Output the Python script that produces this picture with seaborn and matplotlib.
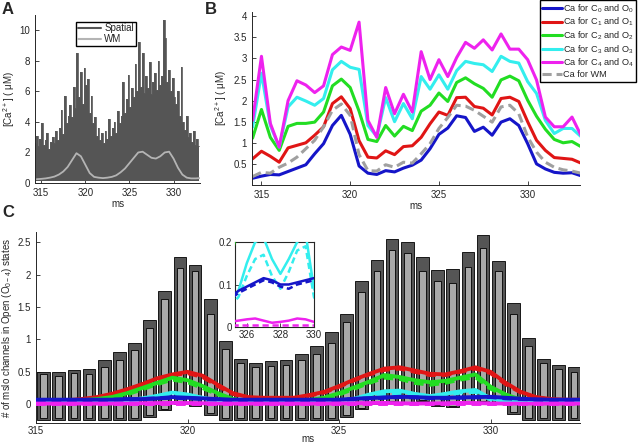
import numpy as np
import pandas as pd
import matplotlib
matplotlib.use('Agg')
import matplotlib.pyplot as plt
import seaborn as sns
from matplotlib.lines import Line2D

sns.set_style('ticks')
plt.rcParams['font.family'] = ['Liberation Sans', 'DejaVu Sans']
plt.rcParams['mathtext.default'] = 'regular'
plt.rcParams['xtick.direction'] = 'in'
plt.rcParams['ytick.direction'] = 'in'
plt.rcParams['xtick.major.size'] = 3
plt.rcParams['ytick.major.size'] = 3
plt.rcParams['xtick.major.width'] = 0.6
plt.rcParams['ytick.major.width'] = 0.6
plt.rcParams['axes.linewidth'] = 0.7
plt.rcParams['xtick.labelsize'] = 7
plt.rcParams['ytick.labelsize'] = 7

# ---------------- panel A : spatial trace (peaks every 0.2 ms) + WM
t_spatial = np.arange(94) * 0.2 + 314.3
spatial_hi = [2.6, 3.1, 2.4, 2.9, 3.9, 2.5, 2.8, 3.3, 2.2, 2.7,
              3.0, 2.6, 3.4, 2.8, 3.6, 4.8, 3.2, 5.7, 3.9, 4.4,
              5.1, 4.3, 6.3, 4.9, 8.5, 5.6, 7.3, 5.2, 7.5, 6.4,
              6.8, 4.6, 5.7, 3.9, 4.3, 3.1, 3.6, 2.8, 3.3, 2.6,
              3.4, 2.9, 4.2, 3.1, 3.6, 4.0, 3.3, 4.7, 3.9, 4.4,
              6.6, 4.6, 5.5, 7.1, 5.0, 6.2, 5.6, 7.8, 6.0, 9.2,
              6.3, 8.5, 5.9, 7.0, 6.2, 7.9, 5.8, 6.6, 7.2, 6.1,
              8.0, 6.4, 7.0, 10.7, 9.5, 6.6, 7.4, 6.0, 6.9, 5.6,
              5.2, 6.0, 4.4, 7.6, 4.0, 3.5, 4.4, 3.0, 3.3, 2.7,
              3.4, 2.5, 2.9, 2.4]
spatial_floor = 0.1

t_wm = np.arange(38) * 0.5 + 314.5
wm_a = [0.25, 0.27, 0.30, 0.35, 0.42, 0.55, 0.75, 1.05, 1.50, 1.95,
        1.75, 1.20, 0.65, 0.40, 0.35, 0.32, 0.35, 0.40, 0.50, 0.70,
        0.95, 1.30, 1.65, 2.00, 2.05, 1.85, 1.65, 1.60, 1.75, 2.00,
        2.05, 1.60, 1.00, 0.55, 0.35, 0.30, 0.30, 0.32]

# ---------------- panel B : Ca per state (0.5 ms)
t_b = np.arange(38) * 0.5 + 314.5
ca_c0 = [0.16, 0.21, 0.25, 0.24, 0.32, 0.40, 0.48, 0.74, 0.98, 1.41, 1.65, 1.20, 0.45,
         0.28, 0.25, 0.34, 0.31, 0.40, 0.47, 0.59, 0.86, 1.20, 1.35, 1.64, 1.60, 1.27,
         1.37, 1.18, 1.49, 1.57, 1.41, 0.98, 0.50, 0.38, 0.30, 0.28, 0.29, 0.22]
ca_c1 = [0.62, 0.80, 0.68, 0.54, 0.88, 0.94, 1.00, 1.18, 1.38, 1.93, 2.09, 1.81, 1.05,
         0.66, 0.64, 0.81, 0.72, 0.91, 0.93, 1.13, 1.45, 1.73, 1.65, 2.07, 2.08, 1.86,
         1.82, 1.66, 2.05, 2.08, 1.98, 1.50, 1.06, 0.82, 0.65, 0.63, 0.61, 0.52]
ca_c2 = [1.11, 1.79, 1.13, 0.82, 1.39, 1.46, 1.46, 1.49, 1.73, 2.35, 2.51, 2.31, 1.75,
         1.08, 1.03, 1.41, 1.16, 1.39, 1.29, 1.75, 1.89, 2.18, 1.98, 2.43, 2.54, 2.40,
         2.29, 2.08, 2.49, 2.58, 2.47, 2.01, 1.63, 1.32, 1.08, 1.00, 1.03, 0.91]
ca_c3 = [1.37, 2.65, 1.41, 0.90, 1.85, 2.08, 1.99, 1.89, 2.05, 2.73, 2.93, 2.79, 2.74,
         1.41, 1.15, 2.07, 1.50, 1.93, 1.57, 2.57, 2.27, 2.61, 2.27, 2.71, 2.93, 2.88,
         2.85, 2.69, 3.05, 2.93, 2.89, 2.45, 2.17, 1.53, 1.22, 1.34, 1.34, 1.15]
ca_c4 = [1.53, 3.05, 1.46, 0.90, 2.00, 2.47, 2.37, 2.19, 2.35, 3.09, 3.27, 3.19, 3.86,
         1.53, 1.13, 2.31, 1.69, 2.15, 1.73, 3.16, 2.50, 2.97, 2.57, 3.02, 3.38, 3.24,
         3.44, 3.20, 3.58, 3.22, 3.22, 2.97, 2.49, 1.61, 1.38, 1.38, 1.61, 1.18]
ca_wm = [0.20, 0.30, 0.28, 0.42, 0.52, 0.66, 0.86, 1.06, 1.38, 1.77, 1.92, 1.65, 0.72,
         0.34, 0.33, 0.48, 0.42, 0.54, 0.52, 0.74, 0.98, 1.34, 1.60, 1.89, 1.87, 1.77,
         1.63, 1.49, 1.85, 1.89, 1.69, 1.14, 0.78, 0.54, 0.42, 0.36, 0.33, 0.28]

# ---------------- panel C : open channels, bars every 0.5 ms
t_bar = np.arange(36) * 0.5 + 315.25
dark_hi = [0.50, 0.49, 0.53, 0.55, 0.68, 0.80, 0.95, 1.30, 1.75, 2.27, 2.15, 1.62,
           0.97, 0.70, 0.64, 0.66, 0.69, 0.77, 0.90, 1.11, 1.40, 1.90, 2.22, 2.55,
           2.50, 2.28, 2.08, 2.09, 2.35, 2.61, 2.21, 1.57, 1.03, 0.70, 0.60, 0.57]
dark_lo = [-0.25, -0.24, -0.25, -0.25, -0.25, -0.25, -0.25, -0.20, -0.09, 0.00, -0.02, -0.16,
           -0.25, -0.25, -0.25, -0.25, -0.25, -0.25, -0.25, -0.24, -0.19, -0.08, 0.00, 0.03,
           0.02, 0.05, -0.03, -0.04, 0.02, 0.03, 0.00, -0.15, -0.25, -0.25, -0.25, -0.25]
light_hi = [0.46, 0.44, 0.48, 0.47, 0.58, 0.68, 0.83, 1.18, 1.63, 2.11, 2.06, 1.39,
            0.85, 0.63, 0.58, 0.59, 0.61, 0.69, 0.77, 0.95, 1.27, 1.74, 2.06, 2.38,
            2.33, 2.06, 1.90, 1.88, 2.12, 2.42, 2.05, 1.40, 0.90, 0.63, 0.54, 0.50]
light_lo = [-0.22, -0.21, -0.22, -0.22, -0.22, -0.22, -0.22, -0.17, -0.07, 0.02, 0.00, -0.13,
            -0.22, -0.22, -0.22, -0.22, -0.22, -0.22, -0.22, -0.21, -0.16, -0.06, 0.02, 0.05,
            0.04, 0.07, -0.01, -0.02, 0.04, 0.05, 0.02, -0.12, -0.22, -0.22, -0.22, -0.22]

t_c = np.arange(37) * 0.5 + 315.0
open_o0 = [0.07, 0.07, 0.07, 0.07, 0.07, 0.07, 0.08, 0.08, 0.09, 0.11, 0.10, 0.09, 0.08,
           0.07, 0.07, 0.07, 0.07, 0.07, 0.07, 0.07, 0.070, 0.085, 0.095, 0.105, 0.115,
           0.11, 0.10, 0.10, 0.105, 0.11, 0.115, 0.10, 0.085, 0.075, 0.07, 0.07, 0.07]
open_o1 = [0.06, 0.06, 0.06, 0.08, 0.11, 0.16, 0.23, 0.31, 0.40, 0.46, 0.50, 0.44, 0.30,
           0.17, 0.11, 0.10, 0.10, 0.10, 0.14, 0.19, 0.28, 0.38, 0.47, 0.55, 0.57, 0.52,
           0.47, 0.46, 0.51, 0.57, 0.50, 0.33, 0.19, 0.11, 0.08, 0.07, 0.07]
open_o2 = [0.05, 0.05, 0.05, 0.06, 0.08, 0.11, 0.17, 0.25, 0.33, 0.41, 0.37, 0.28, 0.17,
           0.08, 0.04, 0.03, 0.03, 0.03, 0.06, 0.10, 0.17, 0.26, 0.35, 0.45, 0.42, 0.37,
           0.34, 0.36, 0.41, 0.46, 0.27, 0.15, 0.07, 0.05, 0.04, 0.04, 0.04]
open_o3 = [0.02, 0.02, 0.02, 0.02, 0.03, 0.04, 0.06, 0.09, 0.13, 0.18, 0.15, 0.10, 0.06,
           0.03, 0.02, 0.02, 0.02, 0.02, 0.03, 0.04, 0.06, 0.085, 0.15, 0.20, 0.21, 0.16,
           0.125, 0.16, 0.20, 0.22, 0.09, 0.05, 0.03, 0.02, 0.02, 0.02, 0.02]
open_o4 = [0.01, 0.01, 0.01, 0.01, 0.01, 0.01, 0.012, 0.015, 0.017, 0.02, 0.018, 0.015, 0.012,
           0.01, 0.01, 0.01, 0.01, 0.01, 0.01, 0.01, 0.012, 0.015, 0.018, 0.02, 0.015, 0.01,
           0.012, 0.015, 0.02, 0.018, 0.012, 0.01, 0.01, 0.01, 0.01, 0.01, 0.01]
# WM versions (dashed)
wm_o0 = [0.06, 0.06, 0.06, 0.06, 0.06, 0.07, 0.07, 0.08, 0.09, 0.10, 0.09, 0.08, 0.07,
         0.06, 0.06, 0.06, 0.06, 0.06, 0.06, 0.06, 0.065, 0.08, 0.09, 0.10, 0.11,
         0.105, 0.095, 0.09, 0.10, 0.105, 0.11, 0.09, 0.08, 0.07, 0.065, 0.065, 0.065]
wm_o1 = [0.05, 0.05, 0.06, 0.07, 0.10, 0.15, 0.22, 0.30, 0.38, 0.45, 0.48, 0.42, 0.28,
         0.16, 0.10, 0.09, 0.09, 0.09, 0.13, 0.18, 0.27, 0.37, 0.46, 0.53, 0.55, 0.50,
         0.45, 0.45, 0.50, 0.55, 0.48, 0.31, 0.18, 0.10, 0.07, 0.06, 0.06]
wm_o2 = [0.04, 0.04, 0.04, 0.05, 0.07, 0.10, 0.15, 0.23, 0.31, 0.38, 0.34, 0.25, 0.15,
         0.07, 0.04, 0.03, 0.03, 0.03, 0.05, 0.09, 0.15, 0.24, 0.33, 0.41, 0.39, 0.33,
         0.30, 0.33, 0.38, 0.42, 0.24, 0.13, 0.06, 0.04, 0.04, 0.04, 0.04]
wm_o3 = [0.02, 0.02, 0.02, 0.02, 0.02, 0.03, 0.05, 0.07, 0.11, 0.15, 0.12, 0.08, 0.05,
         0.03, 0.02, 0.02, 0.02, 0.02, 0.02, 0.03, 0.05, 0.07, 0.12, 0.16, 0.17, 0.12,
         0.09, 0.13, 0.18, 0.19, 0.07, 0.04, 0.02, 0.02, 0.02, 0.02, 0.02]
wm_o4 = [0.005] * 37

col = {'b': '#1515c8', 'r': '#e01515', 'g': '#22dd22', 'c': '#33eeee', 'm': '#ee22ee'}

fig = plt.figure(figsize=(6.4, 4.44), dpi=100)

# ---------- A
axA = fig.add_axes([35 / 640, 1 - 183 / 444, 165 / 640, 168 / 444])
axA.fill_between(t_spatial, spatial_floor, spatial_hi, step='mid', color='#555555', lw=0)
sns.lineplot(x=t_spatial, y=spatial_hi, ax=axA, color='#5a5a5a', lw=0.6,
             drawstyle='steps-mid', estimator=None)
sns.lineplot(x=t_wm, y=wm_a, ax=axA, color='#b4b4b4', lw=1.3)
axA.set_xlim(314.3, 333.0)
axA.set_ylim(0, 11)
axA.set_xticks([315, 320, 325, 330])
axA.set_yticks([0, 2, 4, 6, 8, 10])
axA.set_xlabel('ms', fontsize=7, labelpad=0.5)
axA.set_ylabel('[Ca$^{2+}$] ( μM)', fontsize=7, labelpad=2)
sns.despine(ax=axA)
axA.legend([Line2D([], [], color='#555555', lw=1.5), Line2D([], [], color='#b4b4b4', lw=1.5)],
           ['Spatial', 'WM'], loc='upper left', bbox_to_anchor=(0.22, 0.99), fontsize=7,
           frameon=True, fancybox=False, edgecolor='black', framealpha=1,
           handlelength=2.4, borderpad=0.2, labelspacing=0.1, handletextpad=0.3)

# ---------- B
axB = fig.add_axes([251.7 / 640, 1 - 185 / 444, 328.3 / 640, 173 / 444])
series = [(ca_c0, col['b'], 'Ca for C$_0$ and O$_0$'),
          (ca_c1, col['r'], 'Ca for C$_1$ and O$_1$'),
          (ca_c2, col['g'], 'Ca for C$_2$ and O$_2$'),
          (ca_c3, col['c'], 'Ca for C$_3$ and O$_3$'),
          (ca_c4, col['m'], 'Ca for C$_4$ and O$_4$')]
for vals, c, lab in series:
    sns.lineplot(x=t_b, y=vals, ax=axB, color=c, lw=2.2, label=lab)
sns.lineplot(x=t_b, y=ca_wm, ax=axB, color='#a0a0a0', lw=2.2, linestyle=(0, (3, 1.6)),
             label='Ca for WM')
axB.set_xlim(314.45, 332.95)
axB.set_ylim(0.0, 4.1)
axB.set_xticks([315, 320, 325, 330])
axB.set_yticks([0.5, 1, 1.5, 2, 2.5, 3, 3.5, 4])
axB.set_yticklabels(['0.5', '1', '1.5', '2', '2.5', '3', '3.5', '4'])
axB.set_xlabel('ms', fontsize=7, labelpad=1)
axB.set_ylabel('[Ca$^{2+}$] ( μM)', fontsize=7, labelpad=3)
sns.despine(ax=axB)
axB.legend(loc='upper left', bbox_to_anchor=(540 / 640, 1.0), bbox_transform=fig.transFigure,
           fontsize=6.6, frameon=True, fancybox=False, edgecolor='black', framealpha=1,
           handlelength=2.1, borderpad=0.25, labelspacing=0.12, handletextpad=0.15,
           borderaxespad=0)

# ---------- C
axC = fig.add_axes([36 / 640, 1 - 423 / 444, 544 / 640, 191 / 444])
axC.bar(t_bar, np.subtract(dark_hi, dark_lo), bottom=dark_lo, width=0.42,
        color='#555555', edgecolor='black', lw=0.6, zorder=1)
axC.bar(t_bar, np.subtract(light_hi, light_lo), bottom=light_lo, width=0.22,
        color='#a9a9a9', edgecolor='black', lw=0.6, zorder=2)
open_series = [(open_o1, wm_o1, col['r']), (open_o2, wm_o2, col['g']),
               (open_o3, wm_o3, col['c']), (open_o0, wm_o0, col['b']),
               (open_o4, wm_o4, col['m'])]


def draw_open(ax, lw):
    for sol, das, c in open_series:
        sns.lineplot(x=t_c, y=sol, ax=ax, color=c, lw=lw, zorder=3)
        sns.lineplot(x=t_c, y=das, ax=ax, color=c, lw=lw, linestyle=(0, (2.5, 1.5)), zorder=3)


draw_open(axC, 2.8)
axC.set_xlim(315, 332.95)
axC.set_ylim(-0.29, 2.66)
axC.set_xticks([315, 320, 325, 330])
axC.set_yticks([0, 0.5, 1, 1.5, 2, 2.5])
axC.set_yticklabels(['0', '0.5', '1', '1.5', '2', '2.5'])
axC.tick_params(axis='x', pad=2)
axC.set_xlabel('ms', fontsize=7)
axC.xaxis.set_label_coords(0.5, -0.055)
axC.set_ylabel('# of mslo channels in Open (O$_{0-4}$) states', fontsize=7, labelpad=3)
sns.despine(ax=axC)

# inset
axI = fig.add_axes([235 / 640, 1 - 327 / 444, 79 / 640, 85 / 444])
draw_open(axI, 1.8)
axI.set_xlim(325.3, 330.0)
axI.set_ylim(0, 0.2)
axI.set_xticks([326, 328, 330])
axI.set_yticks([0, 0.1, 0.2])
axI.set_yticklabels(['0', '0.1', '0.2'])
axI.set_xlabel('')
axI.tick_params(labelsize=7, pad=2)
for s in axI.spines.values():
    s.set_linewidth(0.8)

for x, y, s in [(2, 2, 'A'), (205, 2, 'B'), (2, 205, 'C')]:
    fig.text(x / 640, 1 - y / 444, s, fontsize=12, fontweight='bold', va='top', ha='left')

fig.savefig('out.png', dpi=100)
